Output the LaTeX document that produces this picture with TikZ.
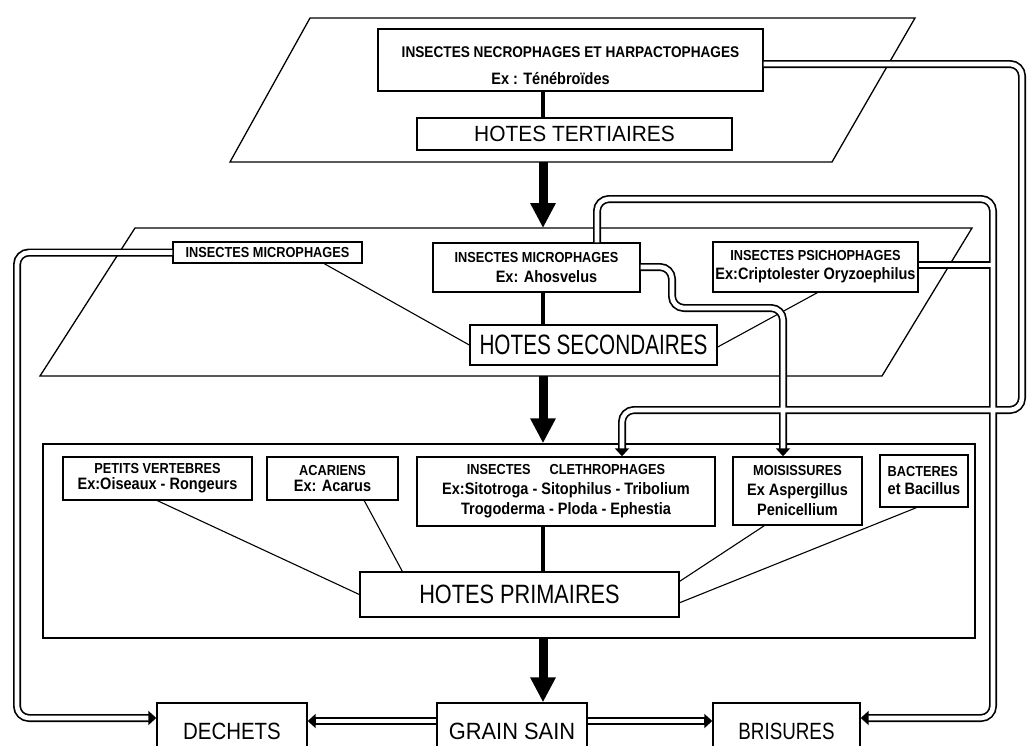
\documentclass[tikz,border=0pt]{standalone}
\usepackage{fontspec}
\setmainfont{Liberation Sans}
\newfontfamily\lettr[FakeStretch=0.88]{Liberation Sans}
\usetikzlibrary{arrows.meta,calc}
\newcommand\hdr{\lettr\bfseries\fontsize{14.5}{20}\selectfont}
\newcommand\exl{\lettr\bfseries\fontsize{16.5}{20}\selectfont}
\newcommand\biglab[3]{\scalebox{#1}[1]{\fontsize{#2}{#2}\selectfont #3}}
\tikzset{
 box/.style={draw, line width=1.4pt, inner sep=0pt, align=center, fill=white},
 lines/.style={font=\fontsize{16}{#1}\selectfont},
 thinlink/.style={line width=1.1pt},
 thicklink/.style={line width=4.5pt},
 bigarrow/.style={line width=9pt, -{Triangle[length=25pt,width=24pt]}},
 plane/.style={line width=1.3pt},
 dbo/.style={line width=8pt, rounded corners=12pt},
 dbi/.style={draw=white, line width=4.6pt, rounded corners=12pt},
 dtip/.style={-{Triangle[length=8pt,width=14pt]}},
 dshort/.style={shorten >=8pt},
}
\begin{document}
\begin{tikzpicture}[x=1pt,y=-1pt]
\useasboundingbox (0,0) rectangle (1028,745);
\clip (0,0) rectangle (1028,745);
\fill[white] (0,0) rectangle (1028,745);
% planes
\draw[plane] (310,18) -- (915,18) -- (832,162) -- (230,162) -- cycle;
\draw[plane] (135,228) -- (972,228) -- (882,376) -- (40,376) -- cycle;
\node[draw, line width=1.5pt, minimum width=932pt, minimum height=194pt, inner sep=0pt] (primframe) at (509,541) {};
% helper coordinates
\coordinate (ax) at (543,0);
\coordinate (p1b) at (543,162);
\coordinate (p2t) at (543,228);
\coordinate (p2b) at (543,376);
\coordinate (yA) at (0,64);
\coordinate (xA) at (622,0);
\coordinate (xB) at (597,0);
\coordinate (yBr) at (0,265);
\coordinate (yBot) at (0,718);
\coordinate (yC) at (0,267);
\coordinate (xC) at (783,0);
\coordinate (yE) at (0,721);
% boxes
\node[box, minimum width=385pt, minimum height=62pt] (necro) at (570.5,60) {};
\node[lines=27, align=center] (necrotxt) at (570.5,66)
  {\hdr\fontsize{15.5}{20}\selectfont INSECTES NECROPHAGES ET HARPACTOPHAGES\\\exl Ex : Ténébroïdes\hspace*{40pt}};
\node[box, minimum width=315pt, minimum height=32pt] (tert) at (574.5,134)
  {\biglab{0.95}{22}{HOTES TERTIAIRES}};
\node[box, lines=20, minimum width=189pt, minimum height=21pt] (mic1) at (267.5,252.5)
  {\hdr INSECTES MICROPHAGES};
\node[box, lines=20, minimum width=207pt, minimum height=49pt] (mic2) at (536.5,267.5)
  {\hdr INSECTES MICROPHAGES\\\exl\hspace*{20pt}Ex: Ahosvelus};
\node[box, lines=19, minimum width=205pt, minimum height=50pt] (psich) at (815.5,267)
  {\hdr INSECTES PSICHOPHAGES\\\exl Ex:Criptolester Oryzoephilus};
\node[box, minimum width=247pt, minimum height=40pt] (sec) at (593.5,345)
  {\biglab{0.74}{28}{HOTES SECONDAIRES}};
\node[box, lines=16, minimum width=189pt, minimum height=43pt] (pv) at (157.5,478.5)
  {\hdr PETITS VERTEBRES\\\exl Ex:Oiseaux - Rongeurs};
\node[box, lines=16, minimum width=131pt, minimum height=43pt] (aca) at (332.5,478.5)
  {\hdr ACARIENS\\\exl Ex: Acarus};
\node[box, lines=20, minimum width=298pt, minimum height=69pt] (cleth) at (566,491.5)
  {\hdr INSECTES\hspace{1.3em}CLETHROPHAGES\\\exl Ex:Sitotroga - Sitophilus - Tribolium\\\exl Trogoderma - Ploda - Ephestia};
\node[box, lines=20, minimum width=129pt, minimum height=68pt] (mois) at (797.5,491)
  {\hdr MOISISSURES\\\exl Ex Aspergillus\\\exl Penicellium};
\node[box, lines=18, minimum width=88pt, minimum height=52pt, align=left] (bact) at (924,481)
  {\hdr BACTERES\\\exl et Bacillus};
\node[box, minimum width=319pt, minimum height=45pt] (prim) at (519.5,594.5)
  {\biglab{0.82}{26.5}{HOTES PRIMAIRES}};
\node[box, minimum width=150pt, minimum height=57pt] (dech) at (232,731.5)
  {\biglab{0.87}{23.5}{DECHETS}};
\node[box, minimum width=150pt, minimum height=57pt] (grain) at (512,731.5)
  {\biglab{0.93}{23.5}{GRAIN SAIN}};
\node[box, minimum width=147pt, minimum height=57pt] (bris) at (786.5,731.5)
  {\biglab{0.8}{23.5}{BRISURES}};
% thick links
\draw[thicklink] (necro.south -| ax) -- (tert.north -| ax);
\draw[thicklink] (mic2.south -| ax) -- (sec.north -| ax);
\draw[thicklink] (cleth.south -| ax) -- (prim.north -| ax);
% big arrows
\draw[bigarrow] (p1b) -- (p2t);
\draw[bigarrow] (p2b) -- (primframe.north -| ax);
\draw[bigarrow] (primframe.south -| ax) -- (grain.north -| ax);
% thin links
\draw[thinlink] ($(mic1.south west)+(152,0)$) -- (sec.west);
\draw[thinlink] ($(psich.south west)+(105,0)$) -- ($(sec.east)+(0,2)$);
\draw[thinlink] (pv.south) -- (prim.west);
\draw[thinlink] ($(aca.south west)+(98,0)$) -- ($(prim.north west)+(43,0)$);
\draw[thinlink] ($(mois.south west)+(32,0)$) -- ($(prim.north east)+(0,10)$);
\draw[thinlink] ($(bact.south west)+(37,0)$) -- ($(prim.south east)+(0,-15)$);
% double connectors: outer pass
\draw[dbo, dtip] (necro.east |- yA) -- (1022,64) -- (1022,410) -- (622,410) -- (cleth.north -| xA);
\draw[dbo, dtip] (mic2.north -| xB) -- (597,199) -- (993,199) -- (993,718) -- (bris.east |- yBot);
\draw[dbo] (psich.east |- yBr) -- (993,265);
\draw[dbo, dtip] (mic2.east |- yC) -- (672,267) -- (672,308) -- (783,308) -- (mois.north -| xC);
\draw[dbo, dtip] (mic1.west) -- (17,252.5) -- (17,718) -- (dech.west |- yBot);
\draw[dbo, dtip] (grain.west |- yE) -- (dech.east |- yE);
\draw[dbo, dtip] (grain.east |- yE) -- (bris.west |- yE);
% double connectors: inner pass
\draw[dbi, dshort] (necro.east |- yA) -- (1022,64) -- (1022,410) -- (622,410) -- (cleth.north -| xA);
\draw[dbi, dshort] (mic2.north -| xB) -- (597,199) -- (993,199) -- (993,718) -- (bris.east |- yBot);
\draw[dbi] (psich.east |- yBr) -- (993,265);
\draw[dbi, dshort] (mic2.east |- yC) -- (672,267) -- (672,308) -- (783,308) -- (mois.north -| xC);
\draw[dbi, dshort] (mic1.west) -- (17,252.5) -- (17,718) -- (dech.west |- yBot);
\draw[dbi, dshort] (grain.west |- yE) -- (dech.east |- yE);
\draw[dbi, dshort] (grain.east |- yE) -- (bris.west |- yE);
\end{tikzpicture}
\end{document}
